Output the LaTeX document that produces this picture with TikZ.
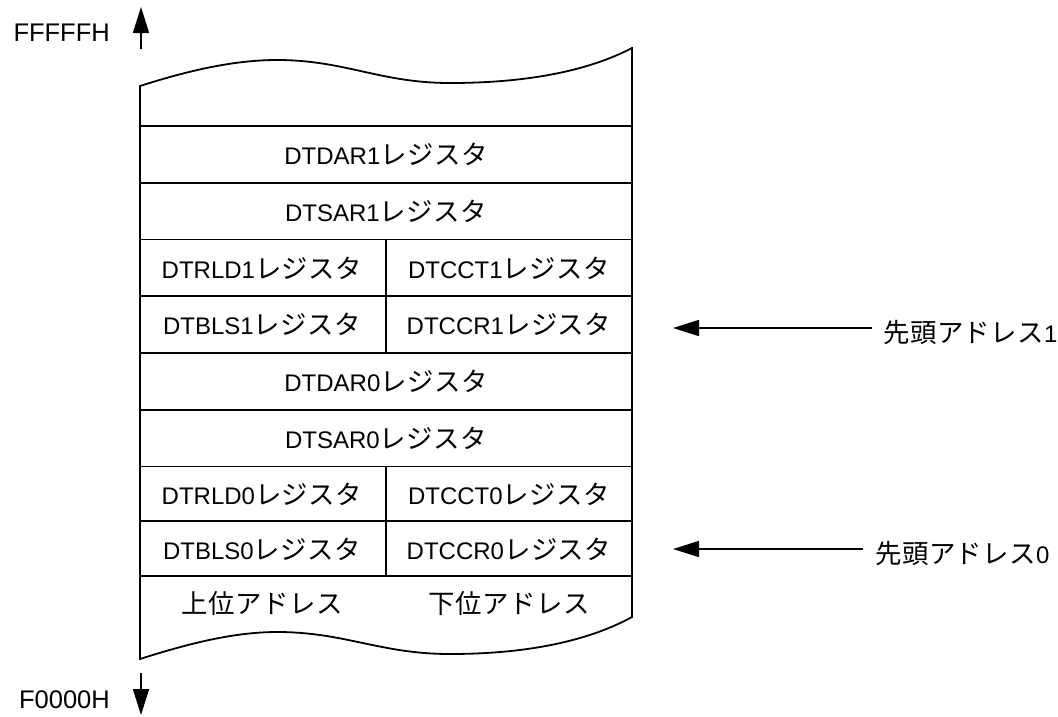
\documentclass[tikz,border=0pt]{standalone}
\usepackage{fontspec}
\setmainfont{Liberation Sans}
\newfontfamily\jp[Scale=1.1,LetterSpace=2]{Noto Sans CJK JP}
\usetikzlibrary{arrows.meta}
\newcommand{\regname}[1]{#1{\jp レジスタ}}
\tikzset{
  cell/.style={font=\fontsize{24}{28}\selectfont, inner sep=0pt},
  bound/.style={font=\fontsize{25.5}{30}\selectfont, inner sep=0pt},
  edge/.style={line width=1.8pt},
  addrarrow/.style={line width=1.6pt, -{Triangle[length=26pt,width=16pt]}},
}
\begin{document}
\begin{tikzpicture}[x=1pt,y=-1pt]
\useasboundingbox (0,0) rectangle (1058,716);
% outline
\draw[edge] (140,86) .. controls (190,70) and (235,60) .. (277,60)
  .. controls (345,60) and (380,83) .. (450,83)
  .. controls (530,83) and (590,70) .. (632,48);
\draw[edge] (140,659) .. controls (190,643) and (235,632) .. (277,632)
  .. controls (345,632) and (380,654) .. (450,654)
  .. controls (530,654) and (590,640) .. (632,617);
\draw[edge] (140,85) -- (140,660);
\draw[edge] (632,47) -- (632,618);
\foreach \yy in {126,183,239.5,296,353,410,466.5,521,576}
  \draw[edge] (140,\yy) -- (632,\yy);
\draw[edge] (386,239.5) -- (386,353);
\draw[edge] (386,466.5) -- (386,576);
% cells
\node[cell] (dar1) at (386,154.5) {\regname{DTDAR1}};
\node[cell] (sar1) at (386,211) {\regname{DTSAR1}};
\node[cell] (rld1) at (262,268) {\regname{DTRLD1}};
\node[cell] (cct1) at (509,268) {\regname{DTCCT1}};
\node[cell] (bls1) at (262,324.5) {\regname{DTBLS1}};
\node[cell] (ccr1) at (509,324.5) {\regname{DTCCR1}};
\node[cell] (dar0) at (386,381.5) {\regname{DTDAR0}};
\node[cell] (sar0) at (386,438) {\regname{DTSAR0}};
\node[cell] (rld0) at (262,494) {\regname{DTRLD0}};
\node[cell] (cct0) at (509,494) {\regname{DTCCT0}};
\node[cell] (bls0) at (262,549) {\regname{DTBLS0}};
\node[cell] (ccr0) at (509,549) {\regname{DTCCR0}};
\node[cell] (upper) at (262,603) {{\jp 上位アドレス}};
\node[cell] (lower) at (509,603) {{\jp 下位アドレス}};
% address labels
\node[bound, anchor=east] (top) at (110,33) {FFFFFH};
\node[bound, anchor=east] (bot) at (110,700) {F0000H};
\coordinate (upb) at (141,49);
\coordinate (upt) at (141,7);
\coordinate (dnb) at (141,673);
\coordinate (dnt) at (141,715);
\draw[addrarrow] (upb) -- (upt);
\draw[addrarrow] (dnb) -- (dnt);
\node[cell, anchor=west] (head1) at (883,333) {{\jp 先頭アドレス}1};
\node[cell, anchor=west] (head0) at (875,554) {{\jp 先頭アドレス}0};
\coordinate (h1s) at (872,328);
\coordinate (h1t) at (673,328);
\coordinate (h0s) at (863,549);
\coordinate (h0t) at (673,549);
\draw[addrarrow] (h1s) -- (h1t);
\draw[addrarrow] (h0s) -- (h0t);
\end{tikzpicture}
\end{document}
